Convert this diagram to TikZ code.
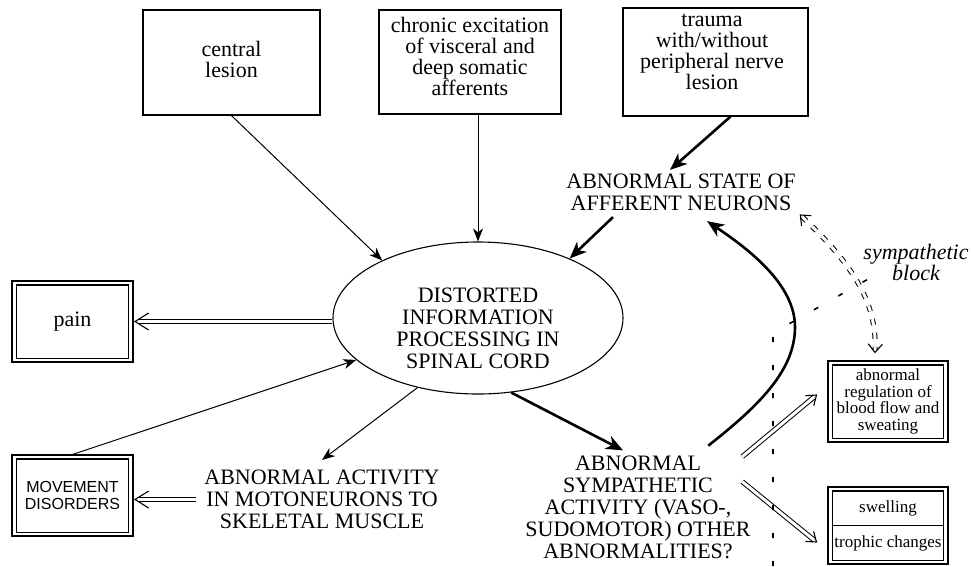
\documentclass[tikz,border=0pt]{standalone}
\usepackage{fontspec}
\setmainfont{Liberation Serif}
\newfontfamily\mvfont{Liberation Sans}
\usetikzlibrary{arrows.meta,calc,shapes.geometric}
\begin{document}
\begin{tikzpicture}[x=1pt,y=-1pt,
  box/.style={draw, line width=1.2pt, inner sep=0pt},
  obox/.style={draw, line width=1.1pt, inner sep=0pt},
  inbox/.style={line width=1.1pt},
  txt/.style={align=center, inner sep=2pt, font=\fontsize{22}{21}\selectfont},
  caps/.style={align=center, inner sep=2pt, font=\fontsize{22}{22}\selectfont},
  small/.style={align=center, inner sep=1pt, font=\fontsize{17}{16.7}\selectfont},
  thinarr/.style={line width=1pt, -{Stealth[length=13pt,width=10pt,inset=4pt]}},
  thickarr/.style={line width=2.6pt, -{Stealth[length=17pt,width=14pt,inset=5pt]}},
  dblline/.style={double, double distance=3.4pt, line width=1pt},
  chev/.style={line width=1.1pt, line join=miter, line cap=butt},
]
\useasboundingbox[fill=white] (0,0) rectangle (974,566);

% top boxes
\node[box, minimum width=177pt, minimum height=105pt] (cl) at (231.5,62.5) {};
\node[txt] (clt) at (231.5,59) {central\\lesion};
\node[box, minimum width=182pt, minimum height=104pt] (ch) at (470,62) {};
\node[txt] (cht) at (470,56.5) {chronic excitation\\of visceral and\\deep somatic\\afferents};
\node[box, minimum width=185pt, minimum height=108pt] (tr) at (715.5,62) {};
\node[txt] (trt) at (712,52) {trauma\\with/without\\peripheral nerve\\lesion};

% central ellipse
\node[draw, ellipse, line width=1.1pt, minimum width=290pt, minimum height=152pt, inner sep=0pt] (dip) at (478,318) {};
\node[caps] (dipt) at (478,328.5) {DISTORTED\\INFORMATION\\PROCESSING IN\\SPINAL CORD};

% text blocks
\node[caps] (st) at (681,192.5) {ABNORMAL STATE OF\\AFFERENT NEURONS};
\node[caps] (aa) at (322,499.5) {ABNORMAL ACTIVITY\\IN MOTONEURONS TO\\SKELETAL MUSCLE};
\node[caps] (sa) at (638,507) {ABNORMAL\\SYMPATHETIC\\ACTIVITY (VASO-,\\SUDOMOTOR) OTHER\\ABNORMALITIES?};

% left boxes (double frames)
\node[obox, minimum width=121pt, minimum height=81pt, font=\fontsize{22}{22}\selectfont] (pn) at (72.5,321.5) {pain};
\draw[inbox] ([shift={(5pt,-4.5pt)}]pn.north west) rectangle ([shift={(-5pt,4.5pt)}]pn.south east);
\node[obox, minimum width=121pt, minimum height=81pt, align=center, font=\mvfont\fontsize{16}{17}\selectfont] (mv) at (72.5,495.5) {MOVEMENT\\DISORDERS};
\draw[inbox] ([shift={(5pt,-4.5pt)}]mv.north west) rectangle ([shift={(-5pt,4.5pt)}]mv.south east);

% right boxes
\node[obox, minimum width=120pt, minimum height=81pt, small] (bf) at (888,401.5) {abnormal\\regulation of\\blood flow and\\sweating};
\draw[inbox] ([shift={(5pt,-4.5pt)}]bf.north west) rectangle ([shift={(-5pt,4.5pt)}]bf.south east);
\node[obox, minimum width=120pt, minimum height=77pt] (sw) at (888,525.5) {};
\draw[inbox] ([shift={(5pt,-4.5pt)}]sw.north west) rectangle ([shift={(-5pt,4.5pt)}]sw.south east);
\draw[inbox] ([xshift=5pt]sw.west) -- ([xshift=-5pt]sw.east);
\node[small] (swa) at (888,508.5) {swelling};
\node[small] (swb) at (888,543) {trophic changes};

\node[align=center, inner sep=1pt, font=\fontsize{22}{20}\selectfont\itshape] (sb) at (916,262) {sympathetic\\block};

% single-line connectors
\draw[thinarr] (cl.south) -- (dip.149);
\draw[thinarr] (ch.south -| dip.north) -- (dip.north);
\draw[thickarr] ([xshift=15pt]tr.south) -- ([xshift=-11pt,yshift=2pt]st.north);
\draw[thickarr] ([xshift=-68pt,yshift=-4pt]st.south) -- (dip.33);
\draw[thinarr] (mv.north) -- (dip.199);
\draw[thinarr] (dip.229) -- ([yshift=8pt]aa.north);
\draw[thickarr] (dip.294) -- ([xshift=-15pt,yshift=3pt]sa.north);

% feedback curve
\draw[thickarr] ([xshift=-44.5pt,yshift=7.7pt]sa.north east)
  .. controls (760,405) and (795,370) .. (795,327)
  .. controls (795,285) and (750,250) .. ([xshift=26pt,yshift=-8pt]st.south);

% double-line connector end points
\coordinate (p1) at (dip.west |- pn.east);
\coordinate (p2) at ([xshift=1.5pt]pn.east);
\coordinate (m1) at ([xshift=-6pt]aa.west);
\coordinate (m2) at ([xshift=1.5pt]aa.west -| mv.east);
\coordinate (u1) at ([xshift=-10.5pt,yshift=-3.3pt]sa.north east);
\coordinate (u2) at ([xshift=-11pt,yshift=6.5pt]bf.west);
\coordinate (l1) at ([xshift=-10.5pt,yshift=-28.3pt]sa.north east);
\coordinate (l2) at ([xshift=-11pt,yshift=-16.5pt]sw.west);
\coordinate (b1) at ([xshift=2.5pt,yshift=-22.5pt]st.east);
\coordinate (b2) at ([xshift=-13pt,yshift=8pt]bf.north);

% double arrows
\draw[dblline, shorten >=3.5pt] (p1) -- (p2);
\draw[chev] ($(p2)!16pt!32:(p1)$) -- (p2) -- ($(p2)!16pt!-32:(p1)$);
\draw[dblline, shorten >=3.5pt] (m1) -- (m2);
\draw[chev] ($(m2)!16pt!32:(m1)$) -- (m2) -- ($(m2)!16pt!-32:(m1)$);
\draw[dblline, double distance=3pt, shorten >=3pt] (u1) -- (u2);
\draw[chev] ($(u2)!11pt!36:(u1)$) -- (u2) -- ($(u2)!11pt!-36:(u1)$);
\draw[dblline, double distance=3pt, shorten >=3pt] (l1) -- (l2);
\draw[chev] ($(l2)!11pt!36:(l1)$) -- (l2) -- ($(l2)!11pt!-36:(l1)$);

% sympathetic block
\draw[dblline, double distance=3pt, dash pattern=on 6pt off 8pt, shorten <=2.5pt, shorten >=2.5pt]
  (b1) .. controls (850,262) and (877,300) .. (b2);
\draw[chev] ($(b1)!11pt!40:(850,262)$) -- (b1) -- ($(b1)!11pt!-40:(850,262)$);
\draw[chev] ($(b2)!11pt!40:(877,300)$) -- (b2) -- ($(b2)!11pt!-40:(877,300)$);

% dashed barrier
\draw[line width=1.6pt, dash pattern=on 5pt off 23pt] (773,566) -- (773,333) -- (870,278);

\end{tikzpicture}
\end{document}
